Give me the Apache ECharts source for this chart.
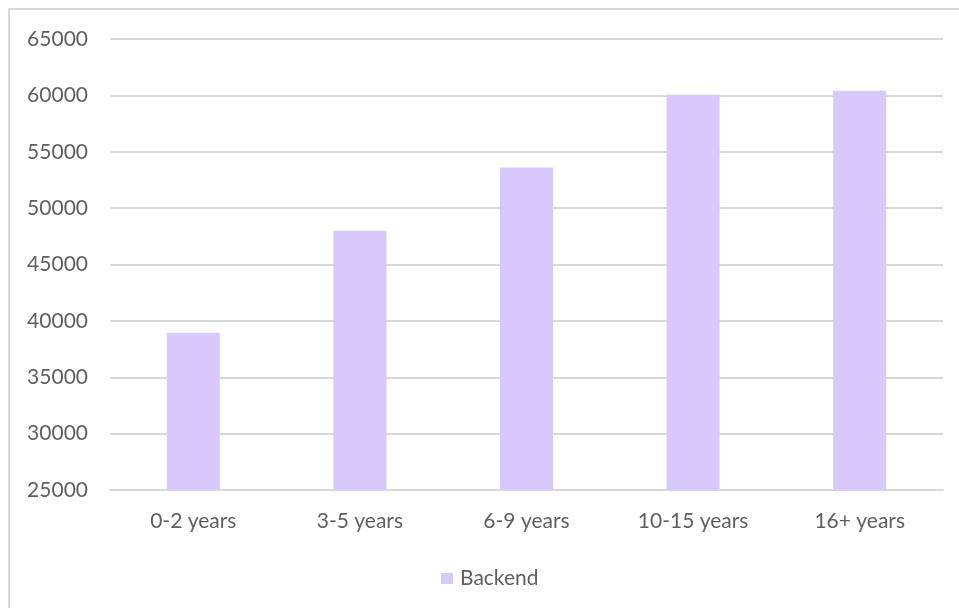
<!DOCTYPE html>
<html>
<head>
<meta charset="utf-8">
<script src="https://cdn.jsdelivr.net/npm/echarts@6/dist/echarts.min.js"></script>
<style>
html,body{margin:0;padding:0;background:#fff;}
#c{width:959px;height:608px;}
</style>
</head>
<body>
<div id="c"></div>
<script>
const categories = ['0-2 years', '3-5 years', '6-9 years', '10-15 years', '16+ years'];
const backend = [38950, 48000, 53600, 60050, 60400];
const seriesName = 'Backend';

const chart = echarts.init(document.getElementById('c'));
const font = 'Lato, "Open Sans", sans-serif';
chart.setOption({
  animation: false,
  backgroundColor: '#ffffff',
  graphic: [{
    type: 'polyline',
    shape: { points: [[9, 608], [9, 9], [959, 9]] },
    style: { stroke: '#d9d9d9', lineWidth: 2, fill: null },
    silent: true
  }],
  grid: { left: 110, right: 16, top: 39, bottom: 118, containLabel: false },
  legend: {
    data: [seriesName],
    top: 563,
    left: 436,
    icon: 'rect',
    itemWidth: 12,
    itemHeight: 11,
    itemGap: 10,
    textStyle: { color: '#5f5f5f', fontSize: 21, fontFamily: font, padding: [0, 0, 0, 2] }
  },
  xAxis: {
    type: 'category',
    data: categories,
    axisLine: { lineStyle: { color: '#d9d9d9', width: 2 } },
    axisTick: { show: false },
    axisLabel: { color: '#5f5f5f', fontSize: 21, fontFamily: font, margin: 21 }
  },
  yAxis: {
    type: 'value',
    min: 25000,
    max: 65000,
    interval: 5000,
    axisLine: { show: false },
    axisTick: { show: false },
    splitLine: { lineStyle: { color: '#d9d9d9', width: 2 } },
    axisLabel: { color: '#5f5f5f', fontSize: 21, fontFamily: font, margin: 22,
      formatter: function (v) { return String(v); } }
  },
  series: [{
    name: seriesName,
    type: 'bar',
    data: backend,
    barWidth: 53,
    itemStyle: { color: '#d8c8fc' }
  }]
});
</script>
</body>
</html>
